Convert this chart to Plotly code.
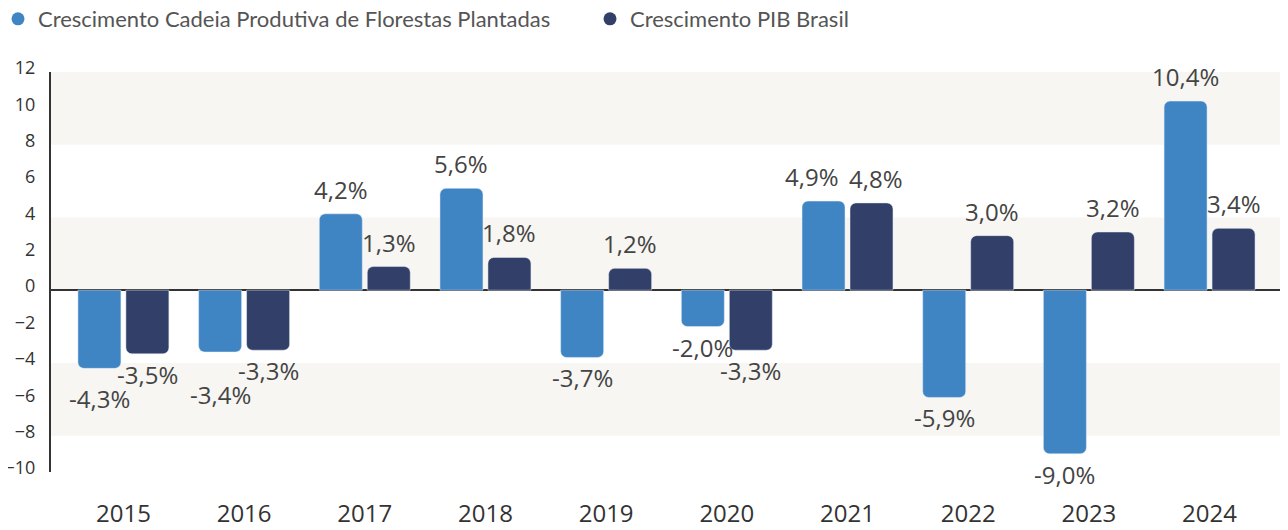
import plotly.graph_objects as go

years = ["2015", "2016", "2017", "2018", "2019", "2020", "2021", "2022", "2023", "2024"]
florestas = [-4.3, -3.4, 4.2, 5.6, -3.7, -2.0, 4.9, -5.9, -9.0, 10.4]
pib = [-3.5, -3.3, 1.3, 1.8, 1.2, -3.3, 4.8, 3.0, 3.2, 3.4]
y_ticks = [-10, -8, -6, -4, -2, 0, 2, 4, 6, 8, 10, 12]

COLORS = {
    'light': '#3f85c4',
    'dark': '#313f69',
    'band': '#f7f6f2',
    'text': '#444444',
    'axis': '#333333',
}
FONT = "Open Sans, sans-serif"
# the page body adds an 8px margin, so the figure is drawn 8px smaller
W, H = 1280, 522
MARGIN = dict(l=43, r=0, t=64, b=58)
Y_RANGE = [-10, 12]
X_RANGE = [-0.6, 9.65]
BARGAP = 0.205
LABEL_GAP_POS = 6  # px between bar end and label box
LABEL_GAP_NEG = 2
LABEL_STEP = 24    # px a crowded label is pushed past its neighbour


def fmt(v):
    return f"{v:.1f}%".replace(".", ",")


fig = go.Figure()

series = [
    ("Crescimento Cadeia Produtiva de Florestas Plantadas", florestas, COLORS['light']),
    ("Crescimento PIB Brasil", pib, COLORS['dark']),
]
for name, vals, color in series:
    fig.add_trace(go.Bar(
        x=years, y=vals, name=name,
        marker=dict(color=color, cornerradius=6),
        showlegend=False,
        hovertemplate="%{x}: %{y:.1f}%<extra></extra>",
    ))
    # circle markers for the legend
    fig.add_trace(go.Scatter(
        x=[None], y=[None], mode='markers', name=name,
        marker=dict(symbol='circle', size=13, color=color),
    ))

# value labels, nudged apart where the two labels of a year would collide
plot_w = W - MARGIN['l'] - MARGIN['r']
plot_h = H - MARGIN['t'] - MARGIN['b']
px_per_x = plot_w / (X_RANGE[1] - X_RANGE[0])
px_per_y = plot_h / (Y_RANGE[1] - Y_RANGE[0])
slot = (1 - BARGAP) / 4 * px_per_x
for i, yr in enumerate(years):
    a, b = florestas[i], pib[i]
    shifts = [0.0, 0.0]
    xnudge = [0, 0]
    if a * b > 0 and abs(a - b) * px_per_y < 20:
        if a > 0:
            xnudge = [-12, 5]
        else:
            far = 0 if abs(a) > abs(b) else 1
            near_end = min(abs(a), abs(b)) * px_per_y
            shifts[far] = near_end + LABEL_STEP - max(abs(a), abs(b)) * px_per_y
    for j, v in enumerate((a, b)):
        pos = v >= 0
        gap = LABEL_GAP_POS if pos else LABEL_GAP_NEG
        # category axis: annotation x is the category index
        fig.add_annotation(
            x=i, y=v, xref='x', yref='y', text=fmt(v), showarrow=False,
            xshift=(-slot if j == 0 else slot) + xnudge[j],
            yshift=(gap + shifts[j]) * (1 if pos else -1),
            yanchor='bottom' if pos else 'top',
            font=dict(family=FONT, size=24, color=COLORS['text']),
        )

# alternating background bands
for y0, y1 in [(8, 12), (0, 4), (-8, -4)]:
    fig.add_shape(type='rect', xref='paper', yref='y', x0=0, x1=1, y0=y0, y1=y1,
                  fillcolor=COLORS['band'], line_width=0, layer='below')

fig.update_layout(
    width=W, height=H,
    barmode='group', bargap=BARGAP, bargroupgap=0.104,
    plot_bgcolor='white', paper_bgcolor='white',
    font=dict(family=FONT, color=COLORS['text']),
    margin=dict(**MARGIN, autoexpand=False),
    legend=dict(
        orientation='h', x=-53 / plot_w, xanchor='left',
        y=1 + 74 / plot_h, yanchor='top',
        font=dict(family="Lato, sans-serif", size=22, color='#555555'),
        itemwidth=30, entrywidthmode='pixels', entrywidth=547,
    ),
    xaxis=dict(
        type='category', range=X_RANGE, showgrid=False, showline=False, ticks='',
        ticklabelstandoff=25,
        tickfont=dict(family=FONT, size=24, color=COLORS['axis']),
    ),
    yaxis=dict(
        range=Y_RANGE, tickvals=y_ticks, showgrid=False,
        showline=True, linecolor=COLORS['axis'], linewidth=2,
        zeroline=True, zerolinecolor=COLORS['axis'], zerolinewidth=2,
        ticks='', ticklabelshift=-4, ticklabelstandoff=10,
        tickfont=dict(family=FONT, size=18, color=COLORS['axis']),
    ),
)

fig.write_html("out.html")
